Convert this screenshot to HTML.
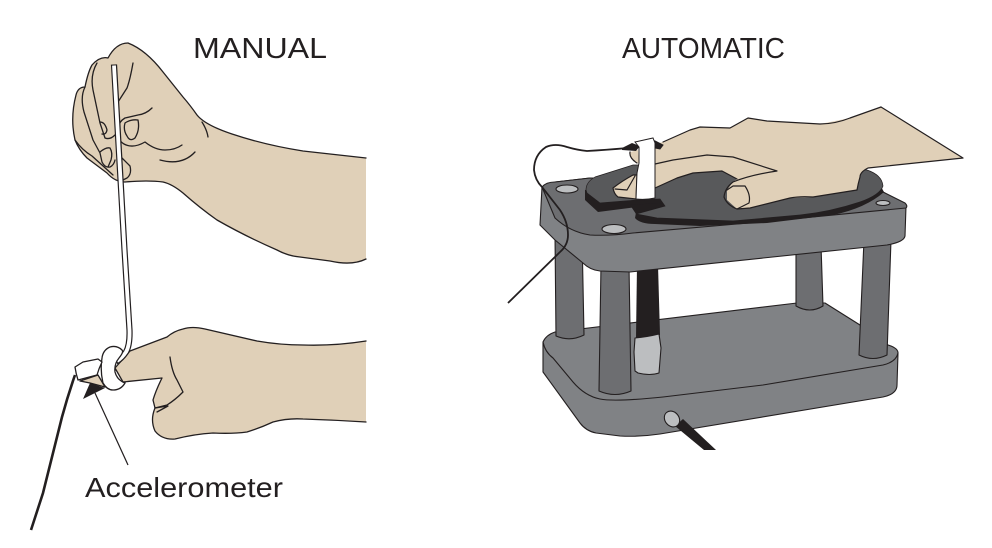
<!DOCTYPE html>
<html><head><meta charset="utf-8"><style>
html,body{margin:0;padding:0;background:#fff}
svg{display:block}
text{font-family:"Liberation Sans",sans-serif;fill:#231f20}
</style></head><body>
<svg width="992" height="548" viewBox="0 0 992 548" xmlns="http://www.w3.org/2000/svg">
<rect width="992" height="548" fill="#fff"/>
<text x="193" y="58" font-size="29" textLength="134" lengthAdjust="spacingAndGlyphs">MANUAL</text>
<text x="622" y="58" font-size="29" textLength="163" lengthAdjust="spacingAndGlyphs">AUTOMATIC</text>
<text x="85" y="497" font-size="28" textLength="198" lengthAdjust="spacingAndGlyphs">Accelerometer</text>

<!-- upper hand -->
<g fill="none" stroke="#231f20" stroke-width="1.3" stroke-linecap="round" stroke-linejoin="round">
<path fill="#e0d0b8" d="M366 158 L303 151 Q265 145 232 134 Q205 125 197 115 Q190 105 183 97 L163 72 Q146 50 128 43 Q116 43 108 58 Q100 56 92 65 Q88 72 85 87 Q78 87 76 95 Q70 118 75 140 Q79 150 87 158 L107 173 Q115 182 125 182 Q148 180 163 182 Q172 184 183 193 Q200 208 217 220 Q245 236 277 250 Q288 256 300 257 L330 261 Q352 266 366 259"/>
<path d="M97 63 Q90 75 93 90 L100 123 L105 138 Q110 140 115 135"/>
<path d="M100 122 Q105 122 107 130 Q106 135 102 134"/>
<path d="M85 87 Q80 97 84 112 L93 140 L100 153 L102 162 Q105 168 110 167 Q114 165 115 160"/>
<path d="M100 152 Q106 147 110 148 Q113 153 111 160 L108 167"/>
<path d="M75 140 Q82 150 92 156 L113 175"/>
<path d="M122 158 L130 166 Q132 174 127 178 L121 181"/>
<path d="M152 108 Q146 114 138 115 L125 118 Q118 122 118 130 Q117 140 124 144 Q133 149 145 142 Q155 150 165 150 Q175 150 182 145"/>
<path d="M125 123 Q131 119 138 120 Q140 130 135 138 Q130 142 127 136 Q123 130 125 123Z"/>
<path d="M160 160 Q182 166 195 152"/>
<path d="M202 122 Q207 130 208 137"/>
<path d="M133 63 Q130 80 127 88 L118 102"/>
</g>

<!-- lower hand -->
<g fill="none" stroke="#231f20" stroke-width="1.3" stroke-linecap="round" stroke-linejoin="round">
<path fill="#e0d0b8" d="M366 341 Q335 346 303 345 Q280 345 257 341 L205 329 Q192 326 183 329 Q174 331 167 337 L130 351 L115 368 L123 382 L162 378 Q156 390 153 400 L155 408 Q150 420 155 431 Q162 440 175 439 Q195 434 213 433 Q232 434 247 432 Q260 428 273 422 Q288 418 303 419 Q335 420 366 422"/>
<path d="M170 357 Q172 372 177 380 L183 392 Q175 400 167 405 L155 408"/>
<path d="M155 408 L168 406 L157 412"/>
<path fill="#e0d0b8" d="M80 381 L98 375 L105 387 L90 383Z"/>
</g>
<!-- stick -->
<path d="M114 64.5 L124.5 250 L129.5 330 Q130 345 126 352 Q122 358 116 362" fill="none" stroke="#231f20" stroke-width="6.2" stroke-linecap="butt"/>
<path d="M114 65.5 L124.5 250 L129.5 330 Q130 345 126 352 Q122 358 117 361" fill="none" stroke="#fff" stroke-width="3.8"/>
<!-- ring -->
<path d="M110 347 Q103 350 102 358 Q100 370 103 383 Q107 390 113 390 Q121 390 125 383 Q117 380 115 372 Q114 364 119 358 Q124 352 122 350 Q117 345 110 347Z" fill="#fff" stroke="#231f20" stroke-width="1.3"/>
<!-- accelerometer -->
<path d="M75 367 L83 362 L98 359 L102 362 Q99 368 97 375 L78 380 Q76 374 75 367Z" fill="#fff" stroke="#231f20" stroke-width="1.3" stroke-linejoin="round"/>
<polygon points="83,399 90,383 105,388" fill="#231f20"/>
<line x1="95" y1="393" x2="128" y2="465" stroke="#231f20" stroke-width="1.2"/>
<path d="M75 375 Q68 395 62 417 L43 493 L31 530" fill="none" stroke="#231f20" stroke-width="2.6"/>

<!-- automatic -->
<g stroke="#231f20" stroke-width="1.1" stroke-linejoin="round">
<!-- lower plate -->
<path fill="#808285" d="M543 342 L543 372 L580 423 Q586 431 596 433 L620 436 Q640 437 660 434 L883 397 Q897 394 897 385 L898 353 Q898 348 888 345 L860 325 L825 303 L797 303 L555 332 Q546 335 543 342Z"/>
<path fill="none" d="M543 342 Q545 352 553 358 L573 382 Q585 396 600 399 Q615 402 663 397 L763 385 L883 365 Q896 362 898 353"/>
<!-- back legs -->
<path fill="#6d6e71" d="M555 235 L582 235 L584 335 Q570 342 556 336Z"/>
<path fill="#6d6e71" d="M796 245 L821 245 L823 306 Q810 314 796 306Z"/>
<!-- sensor rod -->
<path fill="#231f20" stroke="none" d="M637 265 L658 265 L660 335 L636 338Z"/>
<path fill="#bcbec0" d="M635 338 Q647 337 659 334 L661 348 L659 373 Q650 376 638 373 L635 371 L634 352Z"/>
<!-- front legs -->
<path fill="#6d6e71" d="M601 265 L629 265 L631 391 Q615 398 599 391Z"/>
<path fill="#6d6e71" d="M864 240 L891 240 L887 355 Q873 362 859 355Z"/>
<!-- top plate -->
<path fill="#808285" d="M542 187 L540 225 L555 240 L583 263 Q590 270 600 271 L630 272 L887 245 Q904 242 905 236 L906 206 L883 192 L590 178 L555 182Z"/>
<path fill="#6d6e71" d="M542 187 Q546 182 555 182 L590 178 L883 192 L905 203 Q908 206 906 208 L760 222 L633 233 Q610 236 590 235 Q570 232 555 218 Z"/>
<ellipse cx="567" cy="189" rx="11" ry="4" fill="#bcbec0"/>
<ellipse cx="614" cy="229" rx="12" ry="4.5" fill="#bcbec0"/>
<ellipse cx="883" cy="203" rx="7" ry="2.5" fill="#bcbec0"/>
<!-- connector -->
<polygon points="675,426 683,419 716,450 704,450" fill="#231f20" stroke="none"/>
<ellipse cx="672" cy="419" rx="7" ry="8.5" transform="rotate(-40 672 419)" fill="#bcbec0"/>
</g>

<!-- disk -->
<path fill="#231f20" d="M585 190 L585 200 L598 212 L637 207 L635 218 Q640 224 655 224 L700 226 L767 223 L833 215 Q866 208 884 192 L880 185 L700 170 Z"/>
<path fill="#231f20" d="M630 205 L660 203 Q667 205 664 209 Q650 214 636 214Z"/>
<path fill="#58595b" stroke="#231f20" stroke-width=".7" d="M586 190 Q586 182 595 177 L633 165 L800 165 L867 170 Q882 175 883 186 Q880 195 860 202 Q830 212 800 215 L733 221 L657 218 L636 214 L665 206 L660 199 L637 200 L600 203 L587 193Z"/>

<!-- right hand -->
<g stroke="#231f20" stroke-width="1.2" stroke-linecap="round" stroke-linejoin="round" fill="none">
<path fill="#e0d0b8" stroke="none" d="M881 107 L963 158 L868 168 Q860 172 860 177 L857 190 L813 197 L790 198 L750 208 L737 209 L727 200 L727 190 L733 182 L737 179 L722 171 L693 173 L677 178 L655 188 L650 188 L650 145 L663 142 L690 130 L700 127 L730 128 L748 118 L767 121 L820 124 L850 118Z"/>
<path fill="#e0d0b8" d="M637 175 L633 175 Q622 181 613 188 Q614 194 618 197 L636 199Z"/>
<path fill="#e0d0b8" stroke="none" d="M630 152 L638 150 L639 163 L637 163 Q630 160 630 152Z"/>
<path d="M881 107 L850 118 Q835 124 820 124 L767 121 L748 118 L730 128 L700 127 L690 130 L663 142"/>
<path d="M881 107 L963 158 L868 168 Q860 172 860 177 Q858 184 857 190 L813 197 Q800 196 790 198 L750 208 L737 209 Q727 205 724 197 Q725 188 733 182 Q750 175 777 171 L733 157 L707 155 L673 160 L655 164"/>
<path d="M655 188 L677 178 L693 173 L722 171 L737 179"/>
<path d="M727 190 L733 186 L745 186 Q751 195 749 203 L737 209"/>
<path d="M615 189 L627 190 L635 176"/>
<path d="M630 152 Q629 158 637 163"/>
</g>

<!-- strap -->
<path d="M622 148 L632 143 L640 146 L636 151 L622 150Z" fill="#231f20"/>
<path d="M655 141 L663 145 L660 149 L655 148Z" fill="#231f20" stroke="#231f20"/>
<path d="M635 142 L653 138 L655 143 L655 198 Q646 200 636 199 L637 173 L639 163 L639 147Z" fill="#fff" stroke="#231f20" stroke-width="1"/>
<!-- left cable -->
<path d="M628 148 Q605 150 587 151 Q577 150 567 147 Q555 143 546 147 Q534 155 534 170 Q535 180 542 187 L560 210 Q568 222 568 235 Q568 245 560 252 L508 303" fill="none" stroke="#231f20" stroke-width="1.8"/>
</svg>
</body></html>
